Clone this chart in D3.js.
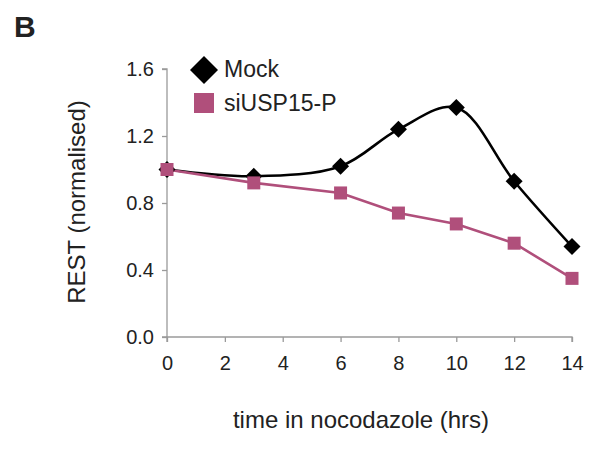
<!DOCTYPE html>
<html>
<head>
<meta charset="utf-8">
<script src="https://cdn.jsdelivr.net/npm/d3@7"></script>
<style>
  body { margin: 0; background: #fff; }
  text { font-family: "Liberation Sans", Arial, sans-serif; fill: #222; }
</style>
</head>
<body>
<svg width="590" height="450"></svg>
<script>
// time points (hrs)
var hours = [0, 3, 6, 8, 10, 12, 14];
var mockValues = [1.00, 0.96, 1.02, 1.24, 1.37, 0.93, 0.54];
var siValues = [1.00, 0.92, 0.86, 0.74, 0.675, 0.56, 0.35];
var xTicks = [0, 2, 4, 6, 8, 10, 12, 14];
var yTicks = [0, 0.4, 0.8, 1.2, 1.6];
var seriesNames = ["Mock", "siUSP15-P"];

var pink = "#b04f7b";
var axisGrey = "#9a9a9a";

var svg = d3.select("svg");

var x = d3.scaleLinear().domain([0, 14]).range([167, 572]);
var y = d3.scaleLinear().domain([0, 1.6]).range([337, 69]);

// axes
var xAxis = svg.append("g")
  .attr("transform", "translate(0," + y(0) + ")")
  .call(d3.axisBottom(x).tickValues(xTicks).tickSize(5).tickPadding(14).tickFormat(d3.format("d")));
var yAxis = svg.append("g")
  .attr("transform", "translate(" + x(0) + ",0)")
  .call(d3.axisLeft(y).tickValues(yTicks).tickSize(5).tickPadding(8).tickFormat(d3.format(".1f")));

[xAxis, yAxis].forEach(function (g) {
  g.select(".domain").attr("stroke", axisGrey).attr("stroke-width", 1.3);
  g.selectAll(".tick line").attr("stroke", axisGrey).attr("stroke-width", 1.3);
  g.selectAll(".tick text")
    .attr("font-size", 20)
    .attr("font-family", "Liberation Sans, Arial, sans-serif")
    .attr("fill", "#222");
});
xAxis.select(".domain").attr("d", "M" + x(0) + ",5V0H" + x(14) + "V5");
yAxis.select(".domain").attr("d", "M-5," + y(1.6) + "H0V" + y(0) + "H-5");

// axis titles
svg.append("text")
  .attr("x", 361).attr("y", 428)
  .attr("text-anchor", "middle")
  .attr("font-size", 24)
  .text("time in nocodazole (hrs)");

svg.append("text")
  .attr("transform", "translate(85,202) rotate(-90)")
  .attr("text-anchor", "middle")
  .attr("font-size", 24)
  .text("REST (normalised)");

svg.append("text")
  .attr("x", 14).attr("y", 37)
  .attr("font-size", 30)
  .attr("font-weight", "bold")
  .text("B");

// lines
var mockData = hours.map(function (h, i) { return [h, mockValues[i]]; });
var siData = hours.map(function (h, i) { return [h, siValues[i]]; });

var smooth = d3.line()
  .x(function (d) { return x(d[0]); })
  .y(function (d) { return y(d[1]); })
  .curve(d3.curveCatmullRom.alpha(0.5));
var straight = d3.line()
  .x(function (d) { return x(d[0]); })
  .y(function (d) { return y(d[1]); });

svg.append("path").attr("d", smooth(mockData))
  .attr("fill", "none").attr("stroke", "#000").attr("stroke-width", 2.6);
svg.append("path").attr("d", straight(siData))
  .attr("fill", "none").attr("stroke", pink).attr("stroke-width", 2.6);

var diamond = function (cx, cy, r) {
  return "M" + cx + "," + (cy - r) + "L" + (cx + r) + "," + cy +
    "L" + cx + "," + (cy + r) + "L" + (cx - r) + "," + cy + "Z";
};

svg.selectAll(".mock").data(mockData).enter().append("path")
  .attr("class", "mock")
  .attr("d", function (d) { return diamond(x(d[0]), y(d[1]), 8.5); })
  .attr("fill", "#000");

svg.selectAll(".si").data(siData).enter().append("rect")
  .attr("class", "si")
  .attr("x", function (d) { return x(d[0]) - 6.5; })
  .attr("y", function (d) { return y(d[1]) - 6.5; })
  .attr("width", 13).attr("height", 13)
  .attr("fill", pink);

// legend
svg.append("path").attr("d", diamond(204, 70, 14)).attr("fill", "#000");
svg.append("rect").attr("x", 194).attr("y", 93).attr("width", 20).attr("height", 20).attr("fill", pink);
svg.append("text").attr("x", 224).attr("y", 77).attr("font-size", 23).text(seriesNames[0]);
svg.append("text").attr("x", 224).attr("y", 111).attr("font-size", 23).text(seriesNames[1]);
</script>
</body>
</html>
